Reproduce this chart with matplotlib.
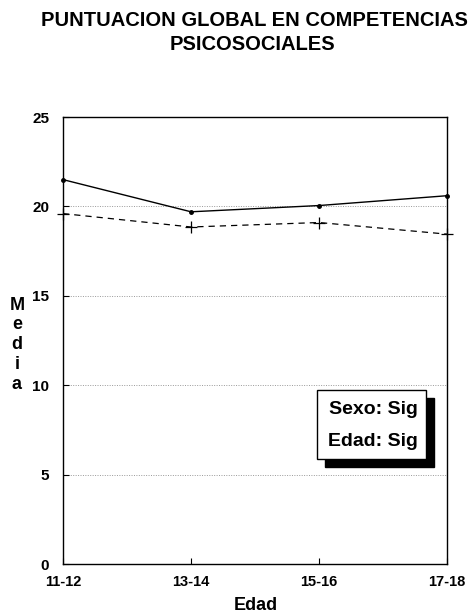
import matplotlib
matplotlib.use("Agg")
import matplotlib.pyplot as plt
from matplotlib.patches import Rectangle

categories = ["11-12", "13-14", "15-16", "17-18"]
serie_solida = [21.5, 19.7, 20.05, 20.6]
serie_discontinua = [19.6, 18.85, 19.1, 18.45]
yticks = [0, 5, 10, 15, 20, 25]

plt.rcParams['font.family'] = ['Liberation Sans', 'DejaVu Sans']

fig = plt.figure(figsize=(4.73, 6.16), dpi=100)
ax = fig.add_axes([0.1332, 0.0844, 0.812, 0.7256])

x = list(range(len(categories)))
ax.plot(x, serie_solida, color='black', lw=1.0, marker='o', ms=2.5, clip_on=False, zorder=3)
ax.plot(x, serie_discontinua, color='black', lw=0.9, ls=(0, (5, 4)), marker='+', ms=8, mew=0.9,
        clip_on=False, zorder=3)

ax.set_xlim(0, 3)
ax.set_ylim(0, 25)
ax.set_xticks(x)
ax.set_xticklabels(categories, fontweight='bold', fontsize=10.5)
ax.set_yticks(yticks)
ax.set_yticklabels([str(v) for v in yticks], fontweight='bold', fontsize=11)
ax.tick_params(axis='both', direction='in', length=4, width=0.8)
ax.tick_params(axis='x', pad=8)
ax.tick_params(axis='y', pad=10)
for v in yticks[1:-1]:
    ax.axhline(v, color='#999999', lw=0.7, ls=(0, (1, 1.5)), zorder=1)
for s in ax.spines.values():
    s.set_linewidth(1.0)

fig.text(256 / 473, 1 - 606 / 616, "Edad", fontweight='bold', fontsize=13,
         ha='center', va='center')

# vertical stacked "Media"
for i, ch in enumerate("Media"):
    fig.text(17 / 473, 1 - (305 + i * 19.8) / 616, ch, fontweight='bold', fontsize=13,
             ha='center', va='center')

fig.text(254 / 473, 1 - 20 / 616, "PUNTUACION GLOBAL EN COMPETENCIAS", fontweight='bold',
         fontsize=14.5, ha='center', va='center')
fig.text(252 / 473, 1 - 44 / 616, "PSICOSOCIALES", fontweight='bold',
         fontsize=14.5, ha='center', va='center')

# legend box with shadow
bx0, by0, bw, bh = 317, 390, 109, 69
shadow = Rectangle(((bx0 + 8) / 473, 1 - (by0 + bh + 8) / 616), bw / 473, bh / 616,
                   transform=fig.transFigure, facecolor='black', edgecolor='black', zorder=5)
box = Rectangle((bx0 / 473, 1 - (by0 + bh) / 616), bw / 473, bh / 616,
                transform=fig.transFigure, facecolor='white', edgecolor='black', lw=1.0, zorder=6)
fig.patches.extend([shadow, box])
fig.text(373 / 473, 1 - 410 / 616, "Sexo: Sig", fontweight='bold', fontsize=14,
         ha='center', va='center', zorder=7)
fig.text(373 / 473, 1 - 442 / 616, "Edad: Sig", fontweight='bold', fontsize=14,
         ha='center', va='center', zorder=7)

fig.savefig("out.png", dpi=100)
